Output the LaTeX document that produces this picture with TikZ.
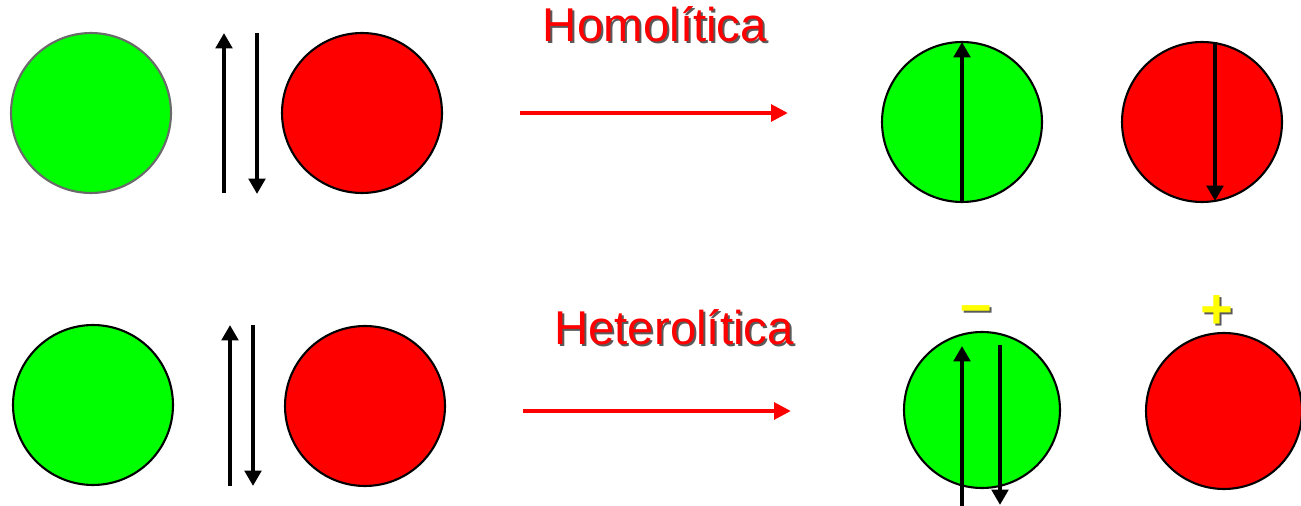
\documentclass[tikz,border=0pt]{standalone}
\usepackage{fontspec}
\setmainfont{Liberation Sans}
\usetikzlibrary{arrows.meta}
\definecolor{grn}{HTML}{00FF00}
\definecolor{rd}{HTML}{FF0000}
\definecolor{ylw}{HTML}{FFFF00}
\definecolor{shd}{HTML}{5A5A5A}
\definecolor{rimgray}{HTML}{6A6A6A}
\newcommand{\shadowed}[2]{\makebox[0pt][l]{\hspace{0.04cm}\raisebox{-0.04cm}{\textcolor{shd}{#2}}}\textcolor{#1}{#2}}
\begin{document}
\begin{tikzpicture}[x=0.02cm,y=-0.02cm,
  atom/.style={circle,minimum size=3.2cm,inner sep=0pt,line width=1.2pt,draw=black},
  spin/.style={line width=2.7pt,-{Triangle[width=0.33cm,length=0.31cm]}},
  react/.style={draw=rd,line width=2.6pt,-{Triangle[width=0.33cm,length=0.34cm]}},
  lbl/.style={font=\fontsize{27}{30}\selectfont,inner sep=0pt,anchor=base},
  sgn/.style={font=\bfseries\fontsize{32}{36}\selectfont,inner sep=0pt}]
\useasboundingbox (0,0) rectangle (1301,506);
% ---------- row 1 ----------
\node[atom,fill=grn,draw=rimgray] (g1) at (91,113) {};
\node[atom,fill=rd] (r1) at (362,113) {};
\coordinate (u1a) at (224,193);
\coordinate (u1b) at (224,33);
\coordinate (d1a) at (257,33);
\coordinate (d1b) at (257,194);
\draw[spin] (u1a) -- (u1b);
\draw[spin] (d1a) -- (d1b);
\coordinate (h1a) at (520,113);
\coordinate (h1b) at (788,113);
\draw[react] (h1a) -- (h1b);
\node[lbl] (hom) at (655,42) {\shadowed{rd}{Homolítica}};
\node[atom,fill=grn] (g2) at (962,122) {};
\node[atom,fill=rd] (r2) at (1202,122) {};
\coordinate (u2a) at (962,202);
\coordinate (u2b) at (962,42);
\coordinate (d2a) at (1215,42);
\coordinate (d2b) at (1215,201);
\draw[spin] (u2a) -- (u2b);
\draw[spin] (d2a) -- (d2b);
% ---------- row 2 ----------
\node[atom,fill=grn] (g3) at (93,405) {};
\node[atom,fill=rd] (r3) at (365,406) {};
\coordinate (u3a) at (230,486);
\coordinate (u3b) at (230,325);
\coordinate (d3a) at (253,325);
\coordinate (d3b) at (253,486);
\draw[spin] (u3a) -- (u3b);
\draw[spin] (d3a) -- (d3b);
\coordinate (h2a) at (523,411);
\coordinate (h2b) at (791,411);
\draw[react] (h2a) -- (h2b);
\node[lbl] (het) at (674,345) {\shadowed{rd}{Heterolítica}};
\node[atom,fill=grn,minimum size=3.12cm] (g4) at (982,410) {};
\node[atom,fill=rd,minimum size=3.12cm] (r4) at (1224,411) {};
\coordinate (u4a) at (962,506);
\coordinate (u4b) at (962,346);
\coordinate (d4a) at (1000,345);
\coordinate (d4b) at (1000,505);
\draw[spin] (u4a) -- (u4b);
\draw[spin] (d4a) -- (d4b);
\node[sgn] (minus) at (976,316) {\shadowed{ylw}{–}};
\node[sgn] (plus) at (1217,313) {\shadowed{ylw}{+}};
\end{tikzpicture}
\end{document}
